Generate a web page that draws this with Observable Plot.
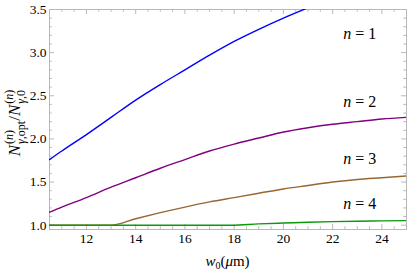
<!DOCTYPE html>
<html>
<head>
<meta charset="utf-8">
<script src="https://cdn.jsdelivr.net/npm/d3@7"></script>
<script src="https://cdn.jsdelivr.net/npm/@observablehq/plot@0.6"></script>
<style>
  html, body { margin: 0; padding: 0; background: #fff; font-family: 'Liberation Serif'; }
  #chart svg { display: block; }
</style>
</head>
<body>
<div id="chart"></div>
<script>
// ---- data ----
const w1 = [10.5, 11, 12, 13, 14, 15, 16, 17, 18, 19, 20, 21];
const n1 = [1.76, 1.86, 2.05, 2.25, 2.45, 2.63, 2.80, 2.97, 3.13, 3.27, 3.40, 3.52];

const w2 = [10.5, 11, 12, 13, 14, 15, 16, 17, 18, 19, 20, 21, 22, 23, 24, 25];
const n2 = [1.15, 1.21, 1.32, 1.44, 1.55, 1.66, 1.76, 1.86, 1.94, 2.01, 2.08, 2.13, 2.17, 2.20, 2.23, 2.25];

const w3 = [10.5, 13.0, 14, 15, 16, 17, 18, 19, 20, 21, 22, 23, 24, 25];
const n3 = [1.0, 1.0, 1.075, 1.145, 1.21, 1.27, 1.32, 1.37, 1.42, 1.46, 1.50, 1.53, 1.55, 1.57];

const w4 = [10.5, 17.9, 19, 20, 21, 22, 23, 24, 25];
const n4 = [1.0, 1.0, 1.015, 1.025, 1.034, 1.041, 1.046, 1.05, 1.053];

const seriesNames = ["n = 1", "n = 2", "n = 3", "n = 4"];
const seriesColors = ["#0000ff", "#800080", "#996633", "#0a9a0a"];
const labelW = [23.1, 23.1, 23.1, 23.1];
const labelV = [3.22, 2.43, 1.77, 1.25];

const xTickLabels = [12, 14, 16, 18, 20, 22, 24];
const yTickLabels = [1.0, 1.5, 2.0, 2.5, 3.0, 3.5];
const xDomain = [10.5, 25];
const yDomain = [0.95, 3.5];

// ---- build tables ----
const lines = [
  ...w1.map((w, i) => ({w, v: n1[i], s: 0})),
  ...w2.map((w, i) => ({w, v: n2[i], s: 1})),
  ...w3.map((w, i) => ({w, v: n3[i], s: 2})),
  ...w4.map((w, i) => ({w, v: n4[i], s: 3}))
];
const labels = seriesNames.map((t, i) => ({t, w: labelW[i], v: labelV[i]}));
const xMinor = d3.range(10.5, 25.001, 0.5).filter(d => !xTickLabels.includes(d));
const yMinor = d3.range(1.0, 3.5001, 0.1).map(d => +d.toFixed(2)).filter(d => !yTickLabels.some(t => Math.abs(t - d) < 1e-6));

const frameColor = "#b8b8b8";
const font = "Liberation Serif";

const chart = Plot.plot({
  width: 407,
  height: 271,
  marginLeft: 49,
  marginRight: 1,
  marginTop: 9,
  marginBottom: 42,
  style: {fontFamily: font, background: "#fff"},
  x: {domain: xDomain},
  y: {domain: yDomain},
  marks: [
    Plot.frame({stroke: frameColor, strokeWidth: 1}),
    Plot.ruleX(xTickLabels, {x: d => d, y1: yDomain[0], y2: yDomain[0], insetTop: -5, stroke: frameColor}),
    Plot.ruleX(xMinor, {x: d => d, y1: yDomain[0], y2: yDomain[0], insetTop: -2.7, stroke: frameColor}),
    Plot.ruleX(xTickLabels, {x: d => d, y1: yDomain[1], y2: yDomain[1], insetBottom: -5, stroke: frameColor}),
    Plot.ruleX(xMinor, {x: d => d, y1: yDomain[1], y2: yDomain[1], insetBottom: -2.7, stroke: frameColor}),
    Plot.ruleY(yTickLabels, {y: d => d, x1: xDomain[0], x2: xDomain[0], insetRight: -5, stroke: frameColor}),
    Plot.ruleY(yMinor, {y: d => d, x1: xDomain[0], x2: xDomain[0], insetRight: -2.7, stroke: frameColor}),
    Plot.ruleY(yTickLabels, {y: d => d, x1: xDomain[1], x2: xDomain[1], insetLeft: -5, stroke: frameColor}),
    Plot.ruleY(yMinor, {y: d => d, x1: xDomain[1], x2: xDomain[1], insetLeft: -2.7, stroke: frameColor}),
    Plot.axisX({ticks: xTickLabels, tickSize: 0, tickPadding: 4, fontSize: 13.5, label: null, tickFormat: d => String(d)}),
    Plot.axisY({ticks: yTickLabels, tickSize: 0, tickPadding: 3, fontSize: 13.5, label: null, tickFormat: d => d.toFixed(1)}),
    Plot.line(lines, {
      x: "w", y: "v", z: "s",
      stroke: d => seriesColors[d.s],
      strokeWidth: 1.4,
      curve: "monotone-x",
      clip: true
    }),
    Plot.text(labels, {x: "w", y: "v", text: "t", fontSize: 16, textAnchor: "middle", fill: "#000", className: "nlabel"})
  ]
});

document.getElementById("chart").appendChild(chart);

const svg = d3.select(chart);
svg.selectAll("g").attr("font-family", font);
svg.selectAll("text").attr("fill", "#000").attr("font-family", font).attr("fill-opacity", 1);

// italic n in series labels
svg.selectAll(".nlabel text").each(function () {
  const el = d3.select(this);
  const t = el.text();
  const rest = t.slice(1);
  el.text(null);
  el.append("tspan").attr("font-style", "italic").text("n");
  el.append("tspan").text(rest);
});

// axis titles with super/subscripts
const xs = chart.scale("x"), ys = chart.scale("y");
const cx = (xs.range[0] + xs.range[1]) / 2;
const xt = svg.append("text")
  .attr("x", cx).attr("y", 266)
  .attr("text-anchor", "middle")
  .attr("font-family", font).attr("font-size", 15).attr("fill", "#000");
xt.append("tspan").attr("font-style", "italic").text("w");
xt.append("tspan").attr("font-size", 10).attr("dy", 3).text("0");
xt.append("tspan").attr("dy", -3).text("(");
xt.append("tspan").attr("font-style", "italic").text("μ");
xt.append("tspan").text("m)");

const cy = (ys.range[0] + ys.range[1]) / 2;
const yt = svg.append("text")
  .attr("transform", `translate(20,${cy + 4}) rotate(-90)`)
  .attr("text-anchor", "middle")
  .attr("font-family", font).attr("font-size", 17).attr("fill", "#000");
function ratioPart(subItalic, subRest) {
  yt.append("tspan").attr("font-style", "italic").text("N");
  const sup = [
    yt.append("tspan").attr("font-size", 12).attr("dy", -7).attr("dx", 1).text("("),
    yt.append("tspan").attr("font-size", 12).attr("font-style", "italic").text("n"),
    yt.append("tspan").attr("font-size", 12).text(")")
  ];
  const wSup = sup.reduce((a, s) => a + s.node().getComputedTextLength(), 0);
  yt.append("tspan").attr("font-size", 12).attr("font-style", "italic").attr("dx", -wSup).attr("dy", 12).text(subItalic);
  yt.append("tspan").attr("font-size", 12).text(subRest);
}
ratioPart("γ", ",opt");
yt.append("tspan").attr("dy", -5).text("/");
ratioPart("γ", ",0");

// force the serif face on every text node
svg.selectAll("text, tspan").each(function () {
  this.style.setProperty("font-family", "'Liberation Serif', serif", "important");
});
</script>
</body>
</html>
